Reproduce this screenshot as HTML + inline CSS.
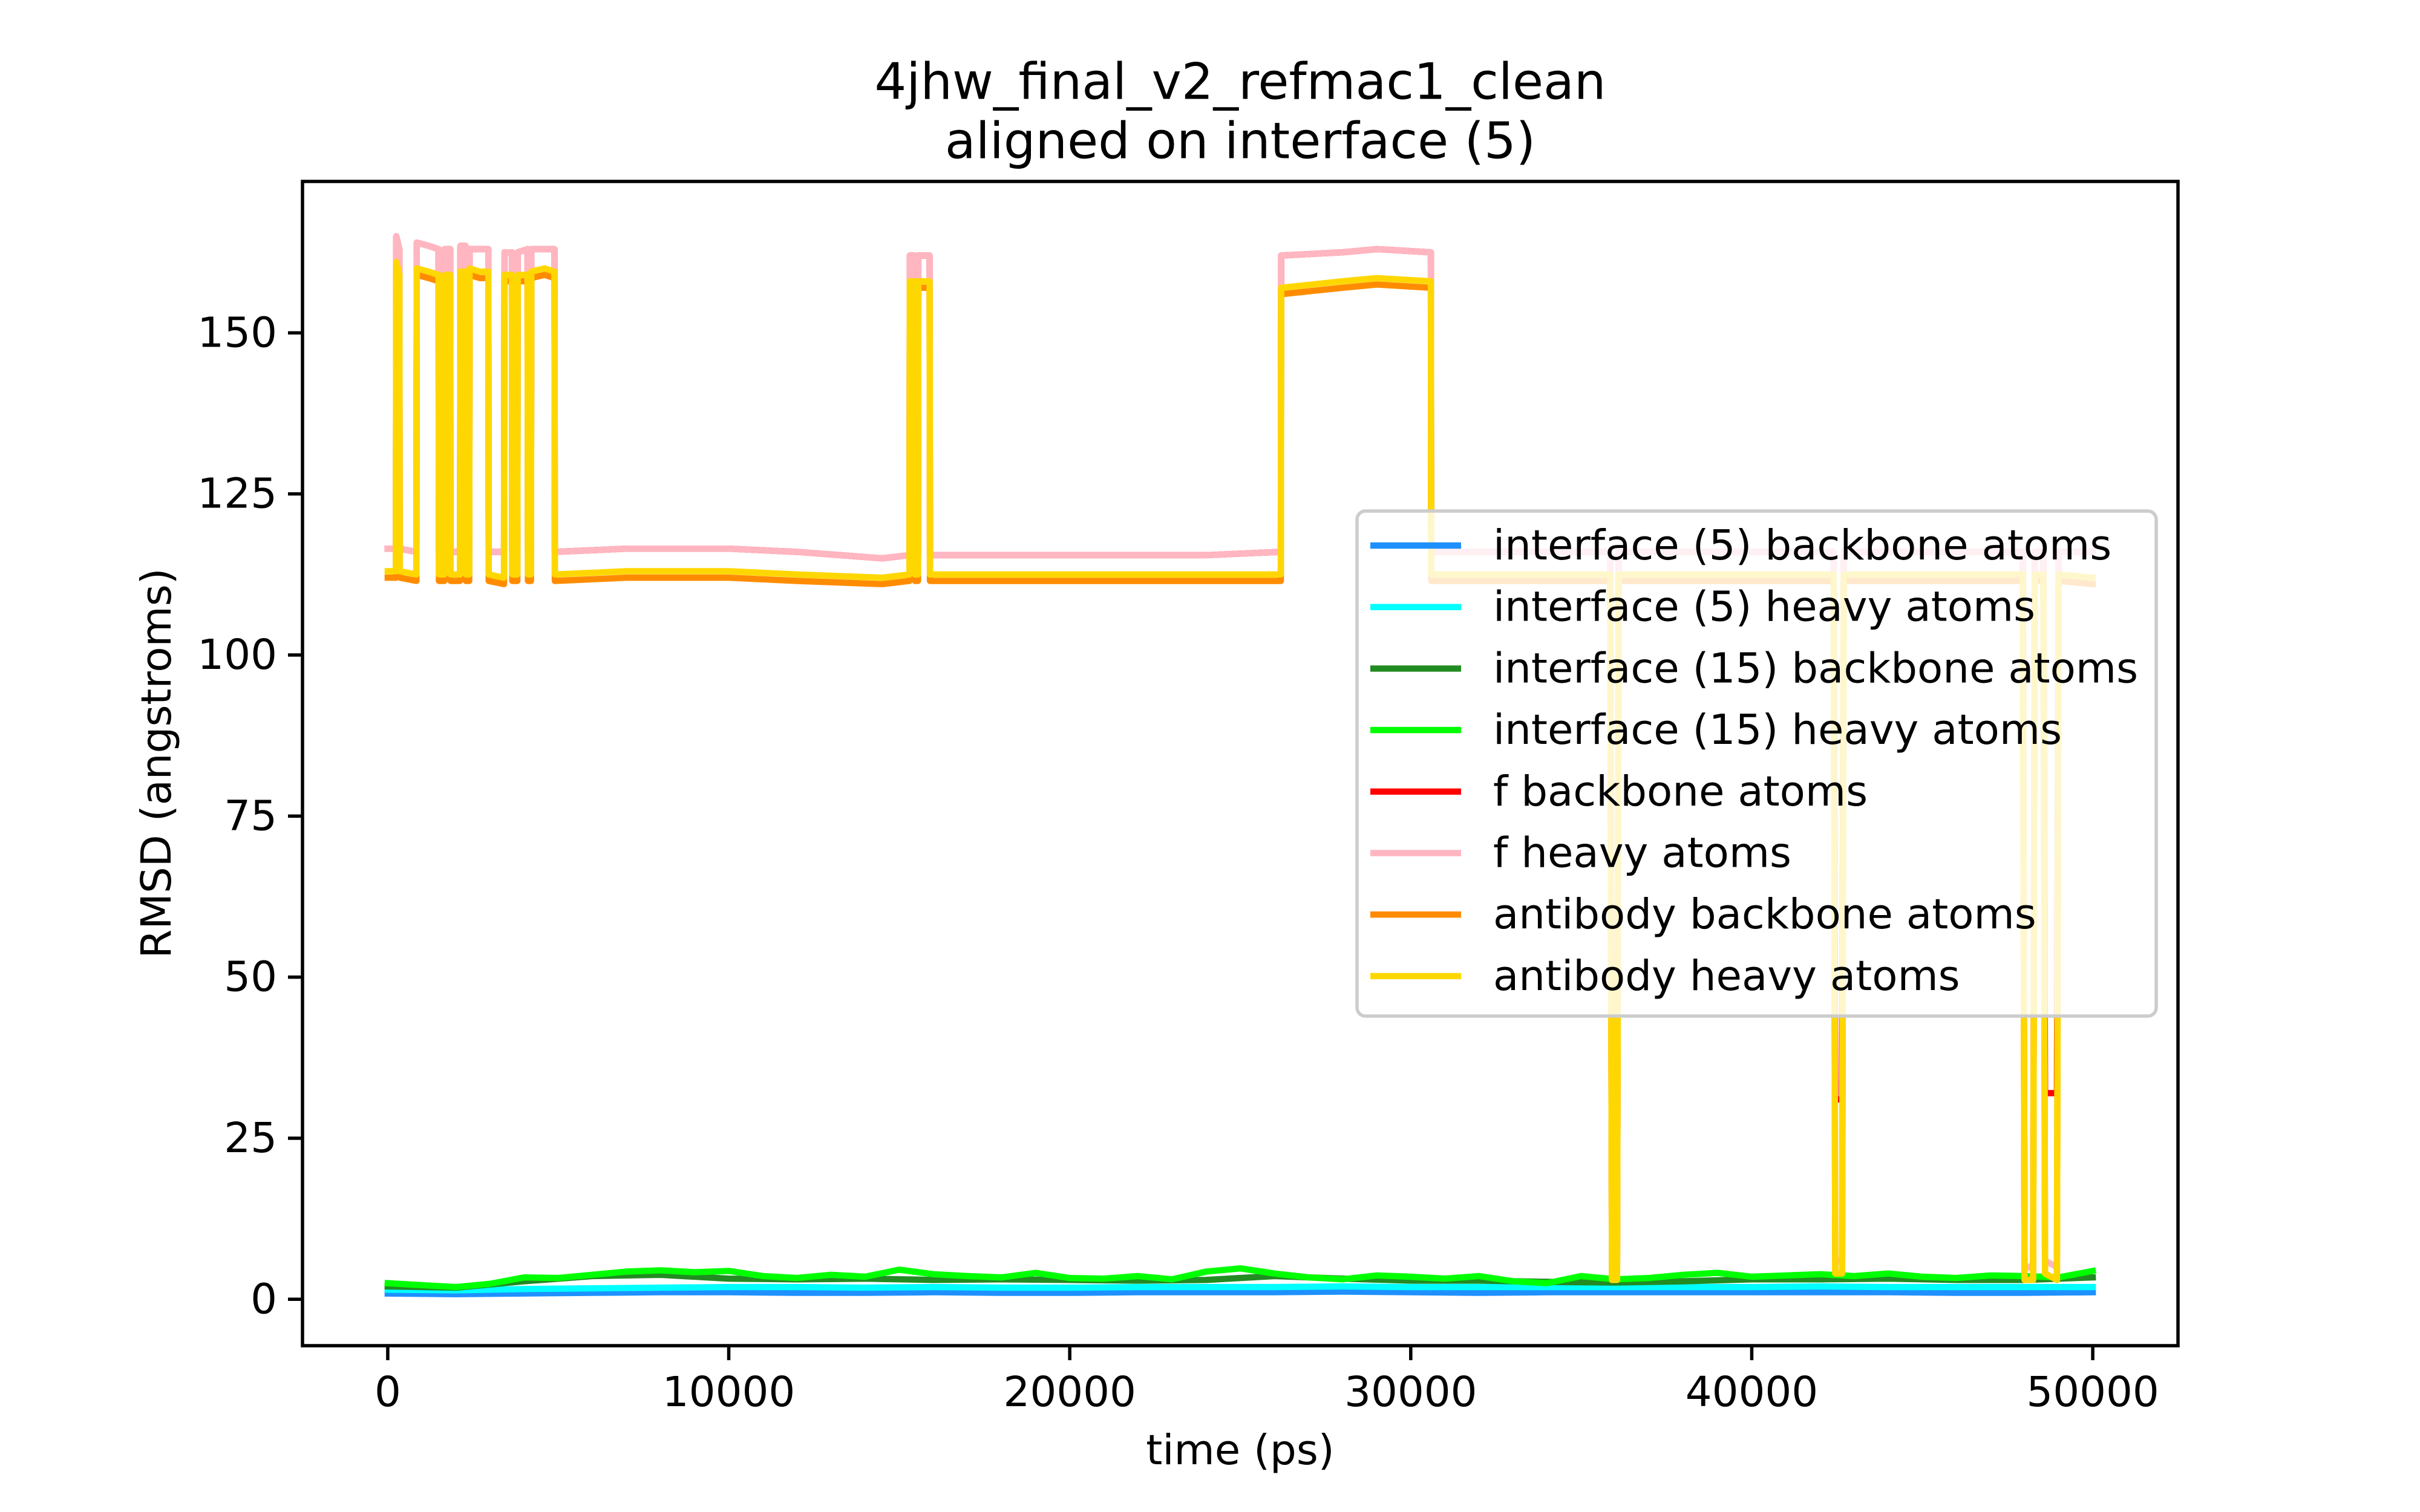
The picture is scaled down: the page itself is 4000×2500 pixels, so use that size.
<!DOCTYPE html>
<html><head><meta charset="utf-8"><style>
html,body{margin:0;padding:0;background:#fff}
svg{display:block;font-family:"DejaVu Sans","Liberation Sans",sans-serif}
</style></head><body>
<svg id="chart" width="4000" height="2500" viewBox="0 0 4000 2500" xmlns="http://www.w3.org/2000/svg">
<rect width="4000" height="2500" fill="#fff"/>
<text x="2050" y="135" text-anchor="middle" dominant-baseline="central" font-size="83">4jhw_final_v2_refmac1_clean</text>
<text x="2050" y="233" text-anchor="middle" dominant-baseline="central" font-size="83">aligned on interface (5)</text>
<g id="plot"></g>
<g id="axes"></g>
<g id="legend"></g>
</svg>
<script>
// ---- data ----
const bigTimes = [0,240,250,340,350,840,850,1200,1490,1500,1660,1670,1830,1840,2120,2130,2280,2290,2390,2400,2700,2950,2960,3410,3420,3640,3650,3800,3810,4100,4110,4200,4210,4600,4890,4900,7000,10000,12000,14500,15300,15310,15450,15460,15550,15560,15890,15900,20000,24000,26190,26200,28000,29000,30590,30600,35850,35900,36050,36100,42400,42450,42650,42700,47950,48000,48250,48300,48550,48600,48950,49000,50000];
const abHeavy = [113,113,161,159,113,112.5,160,159.5,159,112.5,112.5,159,159,112.5,112.5,159.5,159.5,112.5,112.5,160,159.5,159.5,112.5,112,159,159,112.5,112.5,159,159,112.5,112.5,159.5,160,159.5,112.5,113,113,112.5,112,112.5,158,158,112.5,112.5,158,158,112.5,112.5,112.5,112.5,157,158,158.5,158,112.5,112.5,3,3,112.5,112.5,4,4,112.5,112.5,3,3,112.5,112.5,4,3,112.5,112];
const abBackbone = [112,112,160,158,112,111.5,159,158.5,158,111.5,111.5,158,158,111.5,111.5,158.5,158.5,111.5,111.5,159,158.5,158.5,111.5,111,158,158,111.5,111.5,158,158,111.5,111.5,158.5,159,158.5,111.5,112,112,111.5,111,111.5,157,157,111.5,111.5,157,157,111.5,111.5,111.5,111.5,156,157,157.5,157,111.5,111.5,3,3,111.5,111.5,4,4,111.5,111.5,3,3,111.5,111.5,4,3,111.5,111];
const fHeavy = [116.5,116.5,165,163,116.5,116,164,163.5,163,116,116,163,163,116,116,163.5,163.5,116,116,163,163,163,116,116,162.5,162.5,116,116,162.5,163,116,116,163,163,163,116,116.5,116.5,116,115,115.5,162,162,115.5,115.5,162,162,115.5,115.5,115.5,116,162,162.5,163,162.5,116,116,5,5,116,116,6,6,116,116,5,5,116,116,6,5,116,116];
const fBackbone = [116.5,116.5,165,163,116.5,116,164,163.5,163,116,116,163,163,116,116,163.5,163.5,116,116,163,163,163,116,116,162.5,162.5,116,116,162.5,163,116,116,163,163,163,116,116.5,116.5,116,115,115.5,162,162,115.5,115.5,162,162,115.5,115.5,115.5,116,162,162.5,163,162.5,116,116,5,5,116,116,31,31,116,116,5,5,116,116,32,32,116,116];
const smallTimes = [0,2000,4000,6000,8000,10000,12000,14000,16000,18000,20000,22000,24000,26000,28000,30000,32000,34000,36000,38000,40000,42000,44000,46000,48000,50000];
const if5Backbone = [0.9,0.8,0.9,1.0,1.1,1.1,1.0,1.0,1.1,1.0,1.0,1.1,1.1,1.1,1.2,1.1,1.0,1.1,1.1,1.1,1.1,1.1,1.1,1.0,1.0,1.1];
const if5Heavy = [1.5,1.4,1.6,1.7,1.8,1.9,1.9,1.8,1.9,1.8,1.8,1.9,1.9,1.9,2.0,1.9,1.9,1.9,1.9,1.9,1.9,2.0,1.9,1.9,1.9,1.9];
const if15Backbone = [2.0,1.8,2.8,3.6,3.8,3.2,3.1,3.2,3.0,3.1,3.0,2.9,3.0,3.6,3.2,2.9,2.9,2.7,2.6,2.8,3.1,3.1,3.2,3.0,3.0,3.4];
const greenTimes = [0,1000,2000,3000,4000,5000,6000,7000,8000,9000,10000,11000,12000,13000,14000,15000,16000,17000,18000,19000,20000,21000,22000,23000,24000,25000,26000,27000,28000,29000,30000,31000,32000,33000,34000,35000,36000,37000,38000,39000,40000,41000,42000,43000,44000,45000,46000,47000,48000,49000,50000];
const if15Heavy = [2.5,2.2,1.9,2.4,3.4,3.3,3.8,4.3,4.5,4.2,4.4,3.6,3.3,3.8,3.5,4.6,3.9,3.6,3.4,4.1,3.3,3.2,3.6,3.1,4.3,4.8,4.0,3.4,3.1,3.7,3.5,3.2,3.6,2.8,2.5,3.6,3.1,3.3,3.8,4.1,3.5,3.7,3.9,3.6,4.0,3.5,3.3,3.7,3.6,3.4,4.4];
const xTicks = [0,10000,20000,30000,40000,50000];
const yTicks = [0,25,50,75,100,125,150];
const legendLabels = ["interface (5) backbone atoms","interface (5) heavy atoms","interface (15) backbone atoms","interface (15) heavy atoms","f backbone atoms","f heavy atoms","antibody backbone atoms","antibody heavy atoms"];

// ---- geometry ----
const L=500,R=3600,T=300,B=2225;
const XMIN=-2500,XMAX=52500,YMIN=-7.2,YMAX=173.5;
const sx=v=>L+(v-XMIN)/(XMAX-XMIN)*(R-L);
const sy=v=>B-(v-YMIN)/(YMAX-YMIN)*(B-T);
const NS="http://www.w3.org/2000/svg";
const FS=69;
function mk(tag,attrs,parent){const e=document.createElementNS(NS,tag);for(const k in attrs)e.setAttribute(k,attrs[k]);parent.appendChild(e);return e;}

const plot=document.getElementById('plot');
const axes=document.getElementById('axes');
const legend=document.getElementById('legend');
const cp=mk('clipPath',{id:'clip'},document.getElementById('chart'));
mk('rect',{x:L,y:T,width:R-L,height:B-T},cp);
plot.setAttribute('clip-path','url(#clip)');

const series=[
 {t:smallTimes,v:if5Backbone,c:'#1e90ff',n:'line-interface5-backbone'},
 {t:smallTimes,v:if5Heavy,c:'#00ffff',n:'line-interface5-heavy'},
 {t:smallTimes,v:if15Backbone,c:'#228b22',n:'line-interface15-backbone'},
 {t:greenTimes,v:if15Heavy,c:'#00ff00',n:'line-interface15-heavy'},
 {t:bigTimes,v:fBackbone,c:'#ff0000',n:'line-f-backbone'},
 {t:bigTimes,v:fHeavy,c:'#ffb6c1',n:'line-f-heavy'},
 {t:bigTimes,v:abBackbone,c:'#ff8c00',n:'line-antibody-backbone'},
 {t:bigTimes,v:abHeavy,c:'#ffd700',n:'line-antibody-heavy'}
];
series.forEach(s=>{
 const d=s.t.map((t,i)=>(i?'L':'M')+sx(t).toFixed(1)+','+sy(s.v[i]).toFixed(1)).join(' ');
 const p=mk('path',{d:d,fill:'none',stroke:s.c,'stroke-width':10.4,'stroke-linejoin':'round','stroke-linecap':'square'},plot);
 
 
});

const fr=mk('rect',{x:L,y:T,width:R-L,height:B-T,fill:'none',stroke:'#000','stroke-width':5.5},axes);



xTicks.forEach(v=>{
 const x=sx(v);
 const tk=mk('line',{x1:x,y1:B,x2:x,y2:B+24,stroke:'#000','stroke-width':5.5},axes);
 
 
 const tx=mk('text',{x:x,y:2302,'text-anchor':'middle','dominant-baseline':'central','font-size':FS},axes);
 tx.textContent=String(v);
 
 
});
yTicks.forEach(v=>{
 const y=sy(v);
 const tk=mk('line',{x1:L-24,y1:y,x2:L,y2:y,stroke:'#000','stroke-width':5.5},axes);
 
 
 const tx=mk('text',{x:458,y:y,'text-anchor':'end','dominant-baseline':'central','font-size':FS},axes);
 tx.textContent=String(v);
 
 
});
const xl=mk('text',{x:2050,y:2398,'text-anchor':'middle','dominant-baseline':'central','font-size':FS},axes);
xl.textContent='time (ps)';


const yl=mk('text',{x:0,y:0,'text-anchor':'middle','dominant-baseline':'central','font-size':FS,transform:'translate(259,1262) rotate(-90)'},axes);
yl.textContent='RMSD (angstroms)';



const lb=mk('rect',{x:2243,y:845,width:1321,height:835,rx:14,fill:'#fff','fill-opacity':0.8,stroke:'#cccccc','stroke-width':5.5},legend);


legendLabels.forEach((lab,i)=>{
 const y=902+i*101.7;
 const g=mk('g',{},legend);
 
 
 mk('line',{x1:2265,y1:y,x2:2415,y2:y,stroke:series[i].c,'stroke-width':10.4},g);
 const t=mk('text',{x:2468,y:y,'dominant-baseline':'central','font-size':FS},g);
 t.textContent=lab;
});
</script>
</body></html>
